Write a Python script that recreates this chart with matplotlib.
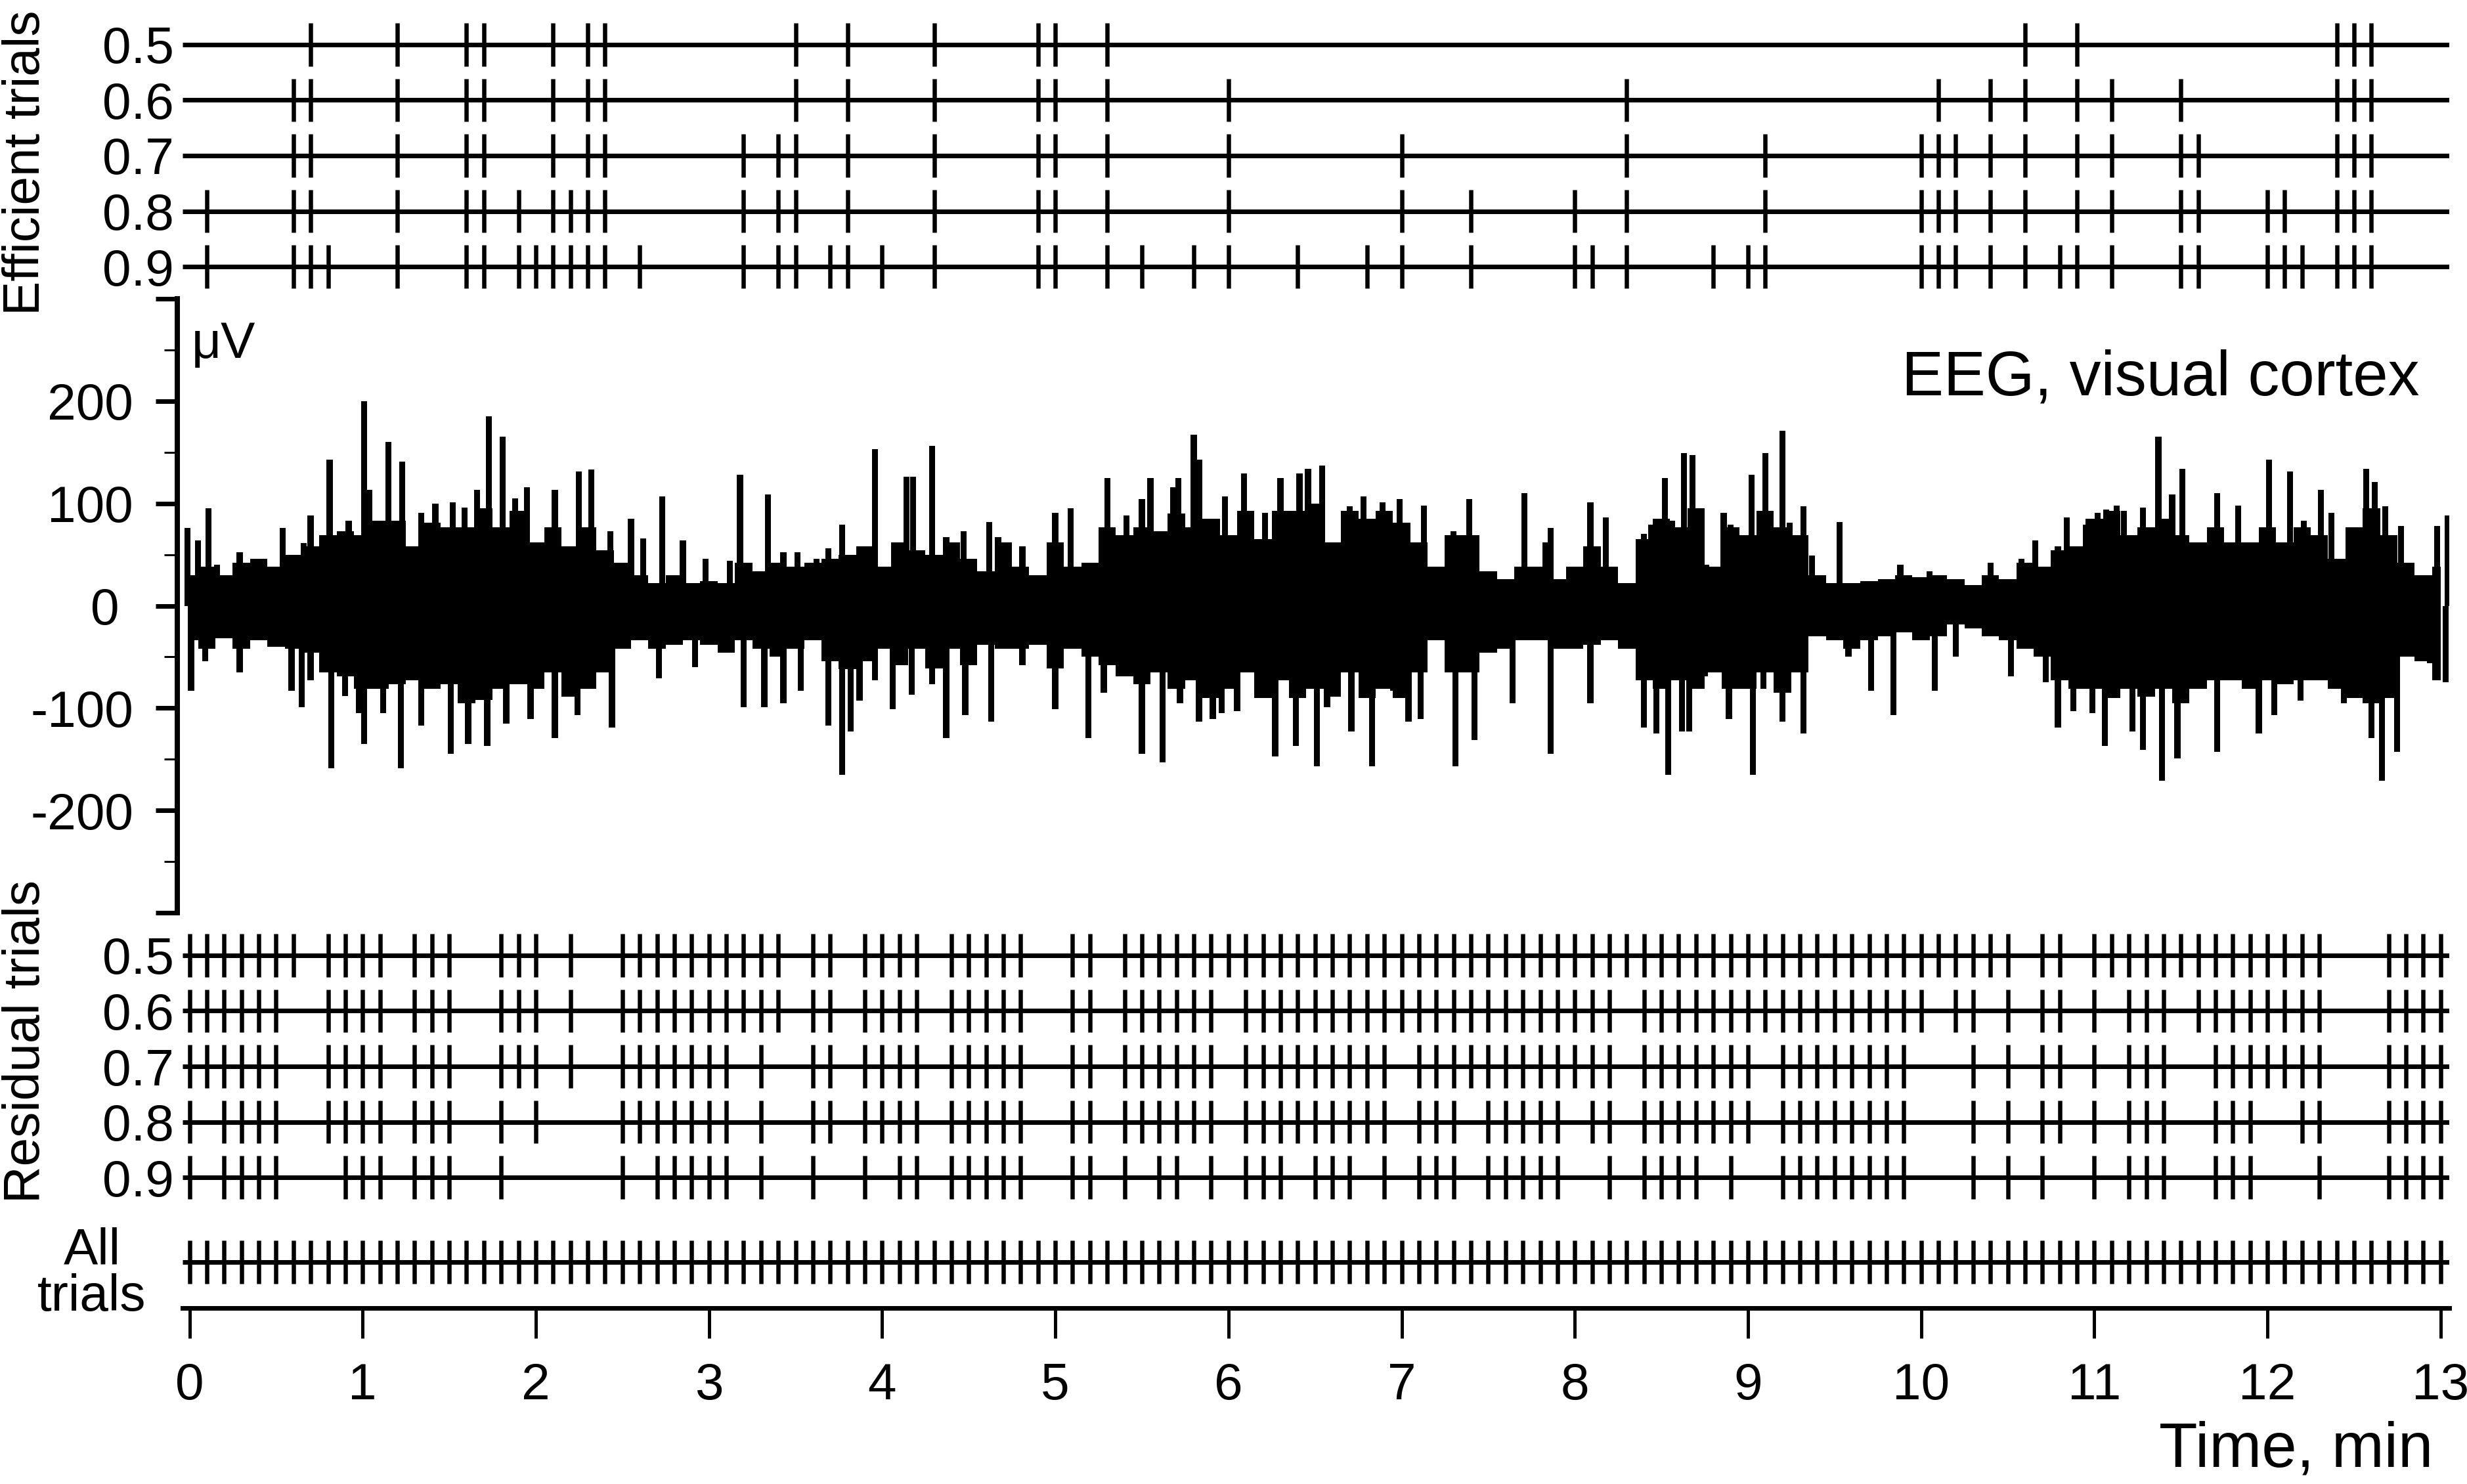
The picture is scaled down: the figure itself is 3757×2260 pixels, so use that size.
import numpy as np
import matplotlib
matplotlib.use("Agg")
import matplotlib.pyplot as plt
from matplotlib.ticker import FixedLocator

plt.rcParams['font.family'] = ['Liberation Sans', 'DejaVu Sans']

W, H, DPI = 3757, 2260, 300

# ---------------- data ----------------
# all trials: one every 0.1 min from 0 to 13 min
all_trials = [i / 10 for i in range(131)]
thresholds = ["0.5", "0.6", "0.7", "0.8", "0.9"]

efficient_05 = [0.7, 1.2, 1.6, 1.7, 2.1, 2.3, 2.4, 3.5, 3.8, 4.3, 4.9, 5.0, 5.3,
                10.6, 10.9, 12.4, 12.5, 12.6]
efficient_06 = [0.6, 0.7, 1.2, 1.6, 1.7, 2.1, 2.3, 2.4, 3.5, 3.8, 4.3, 4.9, 5.0, 5.3,
                6.0, 8.3, 10.1, 10.4, 10.6, 10.9, 11.1, 11.5, 12.4, 12.5, 12.6]
efficient_07 = [0.6, 0.7, 1.2, 1.6, 1.7, 2.1, 2.3, 2.4, 3.2, 3.4, 3.5, 3.8, 4.3, 4.9,
                5.0, 5.3, 6.0, 7.0, 8.3, 9.1, 10.0, 10.1, 10.2, 10.4, 10.6, 10.9,
                11.1, 11.5, 11.6, 12.4, 12.5, 12.6]
efficient_08 = [0.1, 0.6, 0.7, 1.2, 1.6, 1.7, 1.9, 2.1, 2.2, 2.3, 2.4, 3.2, 3.4, 3.5,
                3.8, 4.3, 4.9, 5.0, 5.3, 6.0, 7.0, 7.4, 8.0, 8.3, 9.1, 10.0, 10.1,
                10.2, 10.4, 10.6, 10.9, 11.1, 11.5, 11.6, 12.0, 12.1, 12.4, 12.5, 12.6]
efficient_09 = [0.1, 0.6, 0.7, 0.8, 1.2, 1.6, 1.7, 1.9, 2.0, 2.1, 2.2, 2.3, 2.4, 2.6,
                3.2, 3.4, 3.5, 3.7, 3.8, 4.0, 4.3, 4.9, 5.0, 5.3, 5.5, 5.8, 6.0, 6.4,
                6.8, 7.0, 7.4, 8.0, 8.1, 8.3, 8.8, 9.0, 9.1, 10.0, 10.1, 10.2, 10.4,
                10.6, 10.8, 10.9, 11.1, 11.5, 11.6, 12.0, 12.1, 12.2, 12.4, 12.5, 12.6]
efficient = [efficient_05, efficient_06, efficient_07, efficient_08, efficient_09]

# residual trials = all trials that are not efficient at the given threshold
def _tenths(v):
    return int(round(v * 10))
residual = [[t for t in all_trials if _tenths(t) not in {_tenths(e) for e in eff}]
            for eff in efficient]

# EEG: upper / lower edge of the dense band in 0.1-min bins (uV), t = 0.0 ... 13.0
eeg_band_t = all_trials
eeg_band_hi = [30, 38, 30, 42, 46, 38, 50, 58, 69, 73,
               69, 83, 83, 58, 81, 77, 77, 95, 77, 93,
               62, 77, 58, 77, 54, 42, 30, 22, 30, 22,
               24, 22, 42, 34, 42, 38, 42, 46, 50, 58,
               38, 62, 54, 50, 62, 46, 34, 62, 38, 30,
               62, 38, 42, 77, 69, 77, 73, 90, 77, 85,
               69, 93, 65, 93, 93, 100, 62, 93, 85, 93,
               81, 62, 38, 69, 69, 34, 26, 38, 38, 26,
               38, 58, 38, 22, 65, 85, 77, 95, 38, 77,
               69, 93, 77, 69, 30, 22, 22, 24, 26, 30,
               28, 30, 26, 20, 30, 26, 42, 38, 54, 58,
               85, 93, 69, 77, 85, 69, 62, 77, 62, 62,
               77, 62, 77, 69, 46, 77, 95, 69, 42, 30,
               38]
eeg_band_lo = [-34, -42, -32, -42, -34, -40, -42, -46, -65, -69,
               -81, -81, -77, -73, -81, -77, -95, -92, -81, -77,
               -81, -65, -89, -81, -65, -42, -34, -42, -38, -34,
               -38, -46, -34, -42, -50, -42, -34, -54, -62, -54,
               -42, -58, -42, -61, -42, -58, -38, -42, -42, -38,
               -61, -42, -50, -58, -69, -77, -65, -81, -73, -90,
               -81, -65, -90, -73, -90, -81, -89, -65, -90, -81,
               -90, -65, -34, -65, -65, -46, -42, -34, -34, -42,
               -42, -38, -34, -42, -73, -81, -73, -81, -65, -81,
               -81, -65, -85, -65, -30, -34, -42, -34, -30, -26,
               -34, -30, -18, -22, -30, -34, -42, -50, -73, -81,
               -81, -90, -81, -89, -81, -95, -81, -73, -73, -81,
               -73, -77, -73, -73, -81, -90, -95, -90, -50, -54,
               -73]

# EEG: positive peaks (time min, uV)
eeg_peak_t = [-0.01, 0.05, 0.11, 0.16, 0.29, 0.42, 0.54, 0.60, 0.66, 0.70, 0.81, 0.92,
              1.01, 1.04, 1.15, 1.23, 1.34, 1.42, 1.52, 1.59, 1.66, 1.73, 1.81, 1.88,
              1.95, 2.11, 2.25, 2.32, 2.43, 2.55, 2.62, 2.73, 2.85, 2.98, 3.12, 3.18,
              3.34, 3.43, 3.51, 3.62, 3.69, 3.77,
              3.96, 4.14, 4.18, 4.29, 4.37, 4.47, 4.62, 4.67, 4.81, 5.00, 5.09, 5.30,
              5.41, 5.50, 5.55, 5.68, 5.71, 5.80, 5.83, 5.98, 6.09, 6.21, 6.30, 6.41,
              6.46, 6.54, 6.70, 6.78, 6.89, 6.99, 7.13, 7.30, 7.39, 7.71, 7.83, 7.86,
              8.09, 8.18, 8.40,
              8.44, 8.52, 8.56, 8.63, 8.68, 8.76, 8.86, 8.90, 9.02, 9.10, 9.20, 9.24,
              9.32, 9.37, 9.53, 9.88, 10.05, 10.40, 10.58, 10.66, 10.79, 10.84, 10.95,
              11.02, 11.07, 11.13, 11.17, 11.28, 11.37, 11.45, 11.51, 11.71, 11.83,
              12.01, 12.13, 12.21, 12.31, 12.37, 12.57, 12.62, 12.68, 12.77, 12.98,
              13.04]
eeg_peak_v = [76, 64, 95, 40, 52, 46, 76, 50, 61, 88, 143, 83,
              200, 113, 160, 141, 91, 100, 101, 96, 113, 185, 165, 105,
              116, 113, 131, 133, 73, 85, 66, 107, 64, 46, 44, 128,
              109, 52, 52, 46, 56, 79,
              153, 126, 126, 156, 67, 73, 82, 67, 58, 91, 95, 125,
              88, 104, 125, 116, 125, 167, 143, 107, 129, 91, 125, 129,
              134, 137, 97, 107, 101, 104, 98, 73, 104, 110, 62, 76,
              101, 86, 70,
              79, 125, 83, 149, 147, 40, 91, 79, 128, 149, 171, 81,
              97, 49, 82, 40, 34, 42, 46, 64, 58, 86, 79,
              91, 94, 98, 93, 96, 165, 109, 134, 110, 98,
              143, 131, 83, 113, 91, 134, 121, 97, 78, 78,
              88]

# EEG: negative troughs (time min, uV)
eeg_trough_t = [0.01, 0.09, 0.29, 0.59, 0.65, 0.70, 0.82, 0.90, 0.98, 1.01, 1.12, 1.22,
                1.34, 1.51, 1.61, 1.72, 1.83, 1.97, 2.11, 2.24, 2.44, 2.71, 2.92, 3.20,
                3.32, 3.43, 3.53, 3.69, 3.77, 3.82,
                3.87, 3.96, 4.06, 4.17, 4.29, 4.37, 4.48, 4.63, 4.81, 5.00, 5.19, 5.28,
                5.50, 5.62, 5.72, 5.83, 5.91, 5.96, 6.05, 6.18, 6.27, 6.39, 6.51, 6.57,
                6.71, 6.83, 6.95, 7.04, 7.11, 7.31, 7.42, 7.64, 7.86, 8.09, 8.40,
                8.47, 8.54, 8.62, 8.66, 8.75, 8.89, 9.03, 9.09, 9.20, 9.32, 9.58, 9.71,
                9.84, 10.08, 10.20, 10.52, 10.72, 10.79, 10.88, 10.99, 11.06, 11.22,
                11.28, 11.39, 11.48, 11.71, 11.95, 12.04, 12.19, 12.44, 12.60, 12.66,
                12.75, 12.94, 13.03]
eeg_trough_v = [-83, -54, -65, -83, -99, -73, -159, -88, -105, -135, -105, -159,
                -117, -145, -135, -137, -115, -111, -129, -107, -119, -71, -60, -99,
                -99, -95, -83, -117, -165, -123,
                -93, -73, -101, -87, -77, -129, -107, -113, -58, -101, -129, -85,
                -145, -153, -95, -113, -111, -105, -103, -81, -147, -137, -157, -99,
                -123, -157, -83, -113, -111, -157, -131, -95, -145, -95, -119,
                -125, -165, -123, -123, -69, -111, -165, -81, -113, -125, -50, -83,
                -107, -83, -50, -69, -75, -119, -103, -105, -137, -123,
                -141, -171, -149, -143, -125, -107, -93, -95, -129, -171,
                -143, -56, -75]

x_ticks = list(range(0, 14))
eeg_major = [-300, -200, -100, 0, 100, 200, 300]
eeg_major_labels = ["", "-200", "-100", "0 ", "100", "200", ""]
eeg_minor = [-250, -150, -50, 50, 150, 250]

# ---------------- layout helpers ----------------
fig = plt.figure(figsize=(W / DPI, H / DPI), dpi=DPI)


def px_axes(left, top, right, bottom):
    return fig.add_axes([left / W, 1 - bottom / H, (right - left) / W, (bottom - top) / H])


def px2pt(px):
    return px * 72.0 / DPI


FS = 18.8
ROW_LW = px2pt(7)
TICK_LW = px2pt(6.5)
XLIM = (-0.04, 13.05)


def raster_axes(top, bottom, trials):
    ax = px_axes(278, top, 3730, bottom)
    ax.set_xlim(*XLIM)
    ax.set_ylim(4.5, -0.5)
    for i in range(5):
        ax.axhline(i, color='k', lw=ROW_LW, solid_capstyle='butt')
    ax.eventplot(trials, lineoffsets=list(range(5)), linelengths=0.78,
                 linewidths=TICK_LW, colors='k')
    for s in ax.spines.values():
        s.set_visible(False)
    ax.set_xticks([])
    ax.set_yticks(list(range(5)))
    ax.set_yticklabels(thresholds, fontsize=FS)
    ax.tick_params(axis='y', length=0, pad=px2pt(13))
    return ax


# efficient trials panel (rows at 68 ... 406 px)
ax_eff = raster_axes(25.7, 448.3, efficient)
# residual trials panel (rows at 1455 ... 1793 px)
ax_res = raster_axes(1412.7, 1835.3, residual)

# all trials panel with time axis
ax_all = px_axes(278, 1852, 3730, 1992)
ax_all.set_xlim(*XLIM)
ax_all.set_ylim(0, 140 / 84.6)
ax_all.axhline(70 / 84.6, color='k', lw=ROW_LW, solid_capstyle='butt')
ax_all.eventplot([all_trials], lineoffsets=[70 / 84.6], linelengths=0.78,
                 linewidths=TICK_LW, colors='k')
for k in ['top', 'right', 'left']:
    ax_all.spines[k].set_visible(False)
ax_all.spines['bottom'].set_linewidth(ROW_LW)
ax_all.set_yticks([])
ax_all.set_xticks(x_ticks)
ax_all.set_xticklabels([str(v) for v in x_ticks], fontsize=FS)
ax_all.tick_params(axis='x', length=px2pt(46), width=px2pt(5), pad=px2pt(36))

# EEG panel
ax_eeg = px_axes(270, 455, 3730, 1390)
ax_eeg.set_xlim(-0.07, 13.05)
ax_eeg.set_ylim(-300, 300)
ax_eeg.fill_between(eeg_band_t, eeg_band_lo, eeg_band_hi, step='mid', color='k', lw=0)
ax_eeg.bar(eeg_peak_t, eeg_peak_v, width=0.035, color='k', lw=0)
ax_eeg.bar(eeg_trough_t, eeg_trough_v, width=0.035, color='k', lw=0)
for k in ['top', 'right', 'bottom']:
    ax_eeg.spines[k].set_visible(False)
ax_eeg.spines['left'].set_linewidth(px2pt(8))
ax_eeg.set_xticks([])
ax_eeg.yaxis.set_major_locator(FixedLocator(eeg_major))
ax_eeg.set_yticklabels(eeg_major_labels, fontsize=FS)
ax_eeg.yaxis.set_minor_locator(FixedLocator(eeg_minor))
ax_eeg.tick_params(axis='y', which='major', length=px2pt(33), width=px2pt(7),
                   pad=px2pt(34))
ax_eeg.tick_params(axis='y', which='minor', length=px2pt(20), width=px2pt(3))

# texts
fig.text(292 / W, 1 - 525 / H, "μV", fontsize=FS, ha='left', va='center')
fig.text(3685 / W, 1 - 602 / H, "EEG, visual cortex", fontsize=23, ha='right',
         va='baseline')
fig.text(40 / W, 1 - 248 / H, "Efficient trials", fontsize=FS, rotation=90,
         ha='center', va='center')
fig.text(40 / W, 1 - 1586 / H, "Residual trials", fontsize=FS, rotation=90,
         ha='center', va='center')
fig.text(140 / W, 1 - 1940 / H, "All\ntrials", fontsize=FS, ha='center',
         va='center', linespacing=0.95)
fig.text(3705 / W, 1 - 2233 / H, "Time, min", fontsize=23, ha='right',
         va='baseline')

fig.savefig("out.png", dpi=DPI)
